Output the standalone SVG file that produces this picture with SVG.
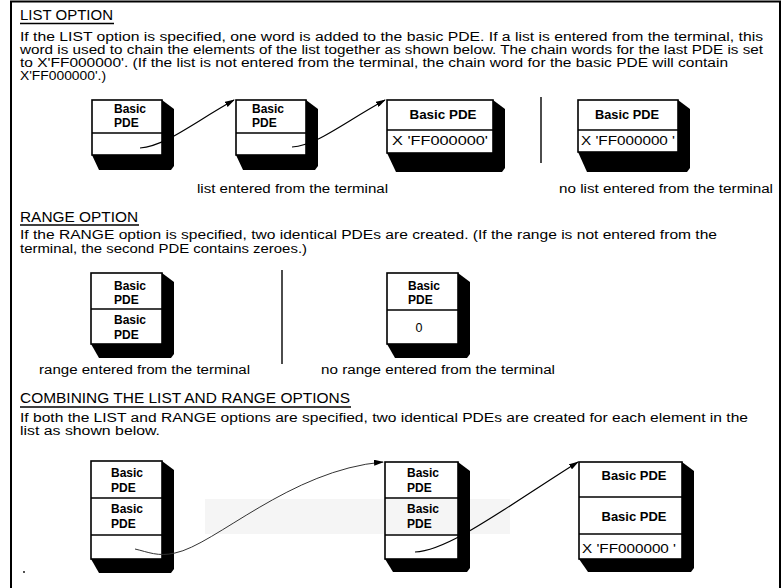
<svg xmlns="http://www.w3.org/2000/svg" width="784" height="588" viewBox="0 0 784 588">
  <style>
    text { font-family: "Liberation Sans", Arial, sans-serif; fill: #000; }
    .title { font-size: 15px; }
    .body { font-size: 12px; }
    .cap { font-size: 12px; }
    .lbl { font-size: 12px; font-weight: bold; }
    .val { font-size: 12.5px; }
    .face { fill: #fff; stroke: #000; stroke-width: 1.6; }
    .div { stroke: #000; stroke-width: 1.6; }
    .shadow { fill: #000; }
    .rule { stroke: #000; stroke-width: 1.4; fill: none; }
    .frame { stroke: #000; stroke-width: 2; fill: none; }
    .link { fill: none; stroke: #000; stroke-width: 1.2; marker-end: url(#head); }
    .faint { fill: none; stroke: #333; stroke-width: 1; marker-end: url(#head); }
  </style>
  <defs>
    <marker id="head" viewBox="0 0 10 6" refX="9" refY="3" markerWidth="10" markerHeight="6" markerUnits="userSpaceOnUse" orient="auto">
      <path d="M0,0 L10,3 L0,6 Z" fill="#000"/>
    </marker>
  </defs>

  <rect width="784" height="588" fill="#fff"/>

  <!-- outer frame: top, left and right edges -->
  <path class="frame" d="M11,588 L11,1.5 L780,1.5 L780,588"/>

  <!-- LIST OPTION section -->
  <g id="list-section">
    <text class="title" x="20" y="20" textLength="93" lengthAdjust="spacingAndGlyphs">LIST OPTION</text>
    <line class="rule" x1="20" y1="23.5" x2="114" y2="23.5"/>
    <text class="body" x="20" y="40.5" textLength="743" lengthAdjust="spacingAndGlyphs">If the LIST option is specified, one word is added to the basic PDE.  If a list is entered from the terminal, this</text>
    <text class="body" x="20" y="54" textLength="743" lengthAdjust="spacingAndGlyphs">word is used to chain the elements of the list together as shown below.  The chain words for the last PDE is set</text>
    <text class="body" x="20" y="67" textLength="708" lengthAdjust="spacingAndGlyphs">to X'FF000000'.  (If the list is not entered from the terminal, the chain word for the basic PDE will contain</text>
    <text class="body" x="20" y="79.5" textLength="86" lengthAdjust="spacingAndGlyphs">X'FF000000'.)</text>
    <line class="rule" x1="541" y1="97" x2="541" y2="163"/>
    <text class="cap" x="197" y="193" textLength="191" lengthAdjust="spacingAndGlyphs">list entered from the terminal</text>
    <text class="cap" x="559" y="193" textLength="214" lengthAdjust="spacingAndGlyphs">no list entered from the terminal</text>
  </g>

  <g id="list-pde-1">
    <polygon class="shadow" points="162,100 174,109 174,166 171,170 99,170 92,155"/>
    <rect class="face" x="92" y="100" width="70" height="55"/>
    <line class="div" x1="92" y1="133" x2="162" y2="133"/>
    <text class="lbl" x="114" y="113">Basic</text>
    <text class="lbl" x="114" y="127">PDE</text>
  </g>
  <g id="list-pde-2">
    <polygon class="shadow" points="306,100 318,109 318,166 315,170 243,170 236,155"/>
    <rect class="face" x="236" y="100" width="70" height="55"/>
    <line class="div" x1="236" y1="133" x2="306" y2="133"/>
    <text class="lbl" x="252" y="113">Basic</text>
    <text class="lbl" x="252" y="127">PDE</text>
  </g>
  <g id="list-pde-last">
    <polygon class="shadow" points="493,100 505,109 505,168 502,172 396,172 387,153"/>
    <rect class="face" x="387" y="100" width="106" height="53"/>
    <line class="div" x1="387" y1="130" x2="493" y2="130"/>
    <text class="lbl" x="443" y="119" text-anchor="middle" textLength="67" lengthAdjust="spacingAndGlyphs">Basic PDE</text>
    <text class="val" x="440" y="145" text-anchor="middle" textLength="96" lengthAdjust="spacingAndGlyphs">X 'FF000000'</text>
  </g>
  <g id="list-pde-single">
    <polygon class="shadow" points="678,100 690,109 690,168 687,172 587,172 578,152"/>
    <rect class="face" x="578" y="100" width="100" height="52"/>
    <line class="div" x1="578" y1="130" x2="678" y2="130"/>
    <text class="lbl" x="627" y="119" text-anchor="middle" textLength="64" lengthAdjust="spacingAndGlyphs">Basic PDE</text>
    <text class="val" x="628" y="145" text-anchor="middle" textLength="94" lengthAdjust="spacingAndGlyphs">X 'FF000000 '</text>
  </g>

  <!-- RANGE OPTION section -->
  <g id="range-section">
    <text class="title" x="20" y="221.5" textLength="118" lengthAdjust="spacingAndGlyphs">RANGE OPTION</text>
    <line class="rule" x1="20" y1="225" x2="139" y2="225"/>
    <text class="body" x="20" y="239" textLength="697" lengthAdjust="spacingAndGlyphs">If the RANGE option is specified, two identical PDEs are created.  (If the range is not entered from the</text>
    <text class="body" x="20" y="252.5" textLength="287" lengthAdjust="spacingAndGlyphs">terminal, the second PDE contains zeroes.)</text>
    <line class="rule" x1="282" y1="270" x2="282" y2="364"/>
    <text class="cap" x="39" y="374" textLength="211" lengthAdjust="spacingAndGlyphs">range entered from the terminal</text>
    <text class="cap" x="321" y="374" textLength="234" lengthAdjust="spacingAndGlyphs">no range entered from the terminal</text>
  </g>

  <g id="range-pde-pair">
    <polygon class="shadow" points="162,273 174,282 174,354 171,358 99,358 91,344"/>
    <rect class="face" x="91" y="273" width="71" height="71"/>
    <line class="div" x1="91" y1="309" x2="162" y2="309"/>
    <text class="lbl" x="114" y="290">Basic</text>
    <text class="lbl" x="114" y="304">PDE</text>
    <text class="lbl" x="114" y="324">Basic</text>
    <text class="lbl" x="114" y="339">PDE</text>
  </g>
  <g id="range-pde-zero">
    <polygon class="shadow" points="458,273 470,282 470,354 467,358 395,358 387,344"/>
    <rect class="face" x="387" y="273" width="71" height="71"/>
    <line class="div" x1="387" y1="310" x2="458" y2="310"/>
    <text class="lbl" x="408" y="290">Basic</text>
    <text class="lbl" x="408" y="304">PDE</text>
    <text class="val" x="419" y="332" text-anchor="middle">0</text>
  </g>

  <!-- COMBINING section -->
  <g id="combined-section">
    <text class="title" x="20" y="403" textLength="330" lengthAdjust="spacingAndGlyphs">COMBINING THE LIST AND RANGE OPTIONS</text>
    <line class="rule" x1="20" y1="407" x2="351" y2="407"/>
    <text class="body" x="20" y="421.5" textLength="728" lengthAdjust="spacingAndGlyphs">If both the LIST and RANGE options are specified, two identical PDEs are created for each element in the</text>
    <text class="body" x="20" y="435" textLength="140" lengthAdjust="spacingAndGlyphs">list as shown below.</text>
    <circle cx="24" cy="572" r="0.9" fill="#000"/>
  </g>

  <g id="combined-pde-1">
    <polygon class="shadow" points="162,461 174,470 174,569 171,573 99,573 91,559"/>
    <rect class="face" x="91" y="461" width="71" height="98"/>
    <line class="div" x1="91" y1="498" x2="162" y2="498"/>
    <line class="div" x1="91" y1="535" x2="162" y2="535"/>
    <text class="lbl" x="111" y="477">Basic</text>
    <text class="lbl" x="111" y="492">PDE</text>
    <text class="lbl" x="111" y="513">Basic</text>
    <text class="lbl" x="111" y="528">PDE</text>
  </g>
  <g id="combined-pde-2">
    <polygon class="shadow" points="458,462 470,471 470,568 467,572 393,572 385,559"/>
    <rect class="face" x="385" y="462" width="73" height="97"/>
    <line class="div" x1="385" y1="498" x2="458" y2="498"/>
    <line class="div" x1="385" y1="535" x2="458" y2="535"/>
    <text class="lbl" x="407" y="477">Basic</text>
    <text class="lbl" x="407" y="492">PDE</text>
    <text class="lbl" x="407" y="513">Basic</text>
    <text class="lbl" x="407" y="528">PDE</text>
  </g>
  <g id="combined-pde-last">
    <polygon class="shadow" points="682,462 694,471 694,568 691,572 588,572 579,559"/>
    <rect class="face" x="579" y="462" width="103" height="97"/>
    <line class="div" x1="579" y1="497" x2="682" y2="497"/>
    <line class="div" x1="579" y1="534" x2="682" y2="534"/>
    <text class="lbl" x="634" y="480" text-anchor="middle" textLength="65" lengthAdjust="spacingAndGlyphs">Basic PDE</text>
    <text class="lbl" x="634" y="521" text-anchor="middle" textLength="65" lengthAdjust="spacingAndGlyphs">Basic PDE</text>
    <text class="val" x="629" y="553" text-anchor="middle" textLength="94" lengthAdjust="spacingAndGlyphs">X 'FF000000 '</text>
  </g>

  <!-- faint band across the middle row of the combined chain -->
  <rect x="205" y="499" width="305" height="35" fill="#000" opacity="0.04"/>

  <!-- chain words -->
  <g id="connectors">
    <path class="link" d="M140,148 C165,146 190,125 234,100"/>
    <path class="link" d="M292,147 C317,145 340,125 385,100"/>
    <path class="faint" d="M135,549 C148,552 158,557 175,553 C215,545 290,470 383,462"/>
    <path class="link" d="M415,552 C448,551 505,508 578,462"/>
  </g>
</svg>
